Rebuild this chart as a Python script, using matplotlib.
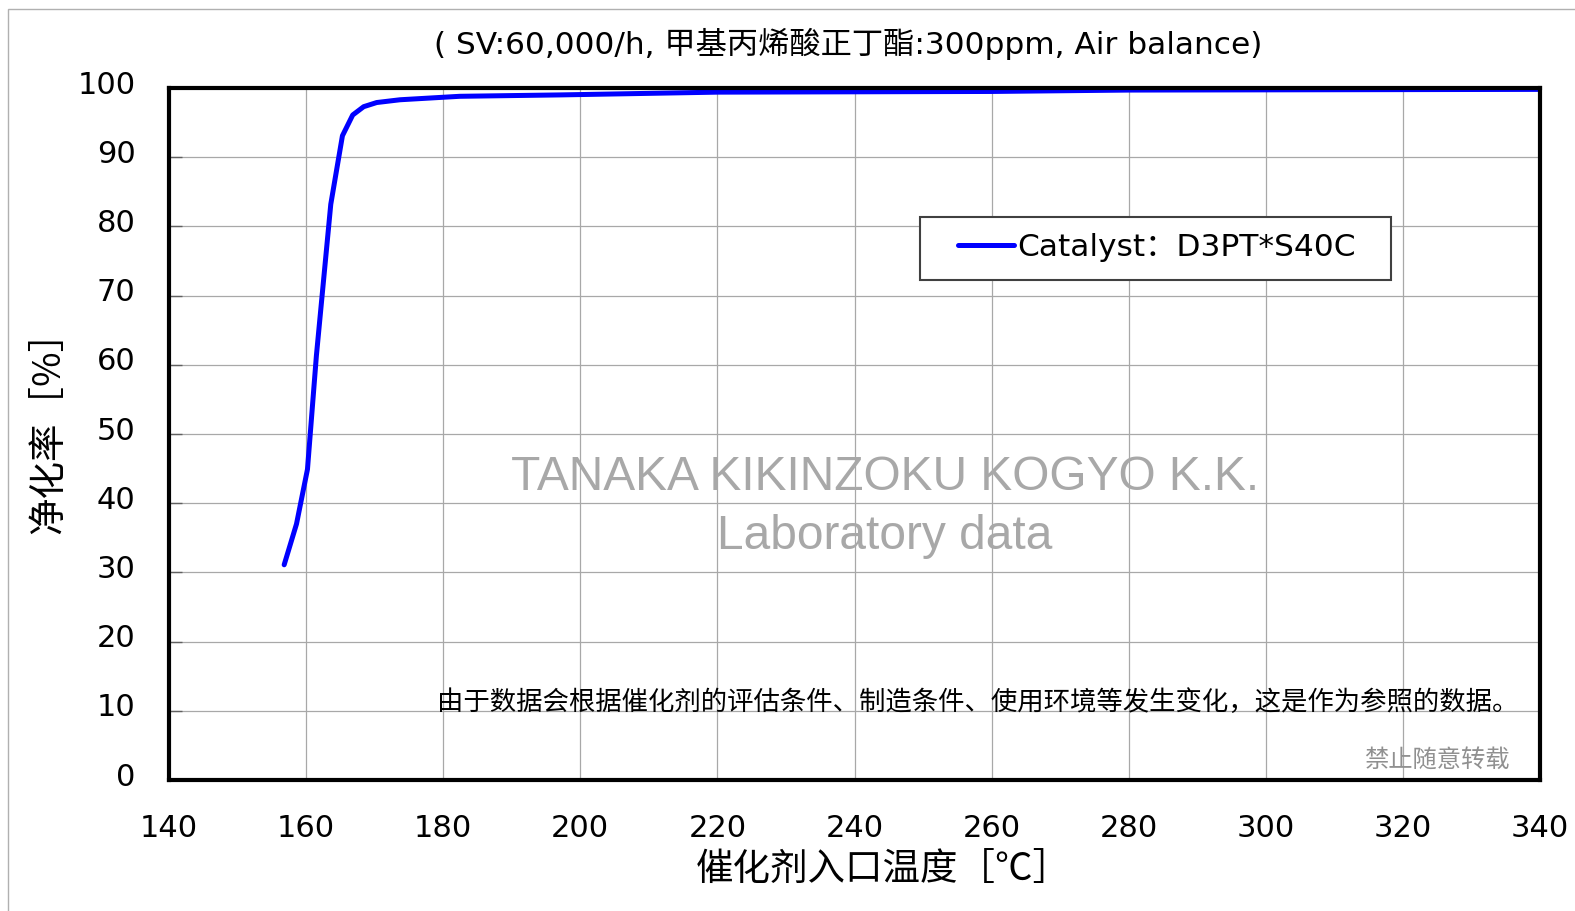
import matplotlib
matplotlib.use('Agg')
import matplotlib.pyplot as plt
import matplotlib.transforms as mtransforms
from matplotlib.patches import Rectangle

# wide latin glyphs first (close to the original UI font), CJK as fallback
plt.rcParams['font.family'] = ['DejaVu Sans', 'Noto Sans CJK SC']
CJK = ['Noto Sans CJK SC', 'DejaVu Sans']

# data
temp = [156.8, 158.6, 160.2, 161.5, 163.6, 165.3, 166.8, 168.4, 170.3, 173.7, 182.4, 197.0, 220.0, 260.0, 280.0, 340.0]
conv = [31.1, 37.0, 44.9, 61.3, 83.2, 93.1, 96.1, 97.3, 97.9, 98.3, 98.8, 99.0, 99.4, 99.5, 99.7, 99.8]
x_ticks = [140, 160, 180, 200, 220, 240, 260, 280, 300, 320, 340]
y_ticks = [0, 10, 20, 30, 40, 50, 60, 70, 80, 90, 100]
series_name = 'Catalyst：D3PT*S40C'
title = '( SV:60,000/h, 甲基丙烯酸正丁酯:300ppm, Air balance)'
xlabel = '催化剂入口温度［℃］'
ylabel = '净化率［%］'
note = '由于数据会根据催化剂的评估条件、制造条件、使用环境等发生变化，这是作为参照的数据。'
no_copy = '禁止随意转载'

W, H = 1575, 912
fig = plt.figure(figsize=(W / 100, H / 100), dpi=100)

# thin grey frame round the picture
fig.add_artist(Rectangle((8 / W, -0.1), 1.2, (H - 10) / H + 0.1, transform=fig.transFigure,
                         fill=False, edgecolor='#b0b0b0', linewidth=1))

ax_l, ax_r, ax_t, ax_b = 169, 1540, 89, 781
ax = fig.add_axes([ax_l / W, 1 - ax_b / H, (ax_r - ax_l) / W, (ax_b - ax_t) / H])
ax.plot(temp, conv, color='#0000ff', linewidth=3.6, solid_capstyle='round',
        solid_joinstyle='round', label=series_name, zorder=3)

ax.set_xlim(140, 340)
ax.set_ylim(0, 100)
ax.set_xticks(x_ticks)
ax.set_yticks(y_ticks)
ax.grid(True, color='#a8a8a8', linewidth=0.9)
ax.set_axisbelow(True)
for s in ax.spines.values():
    s.set_linewidth(3)
    s.set_color('black')
    s.set_zorder(4)
ax.tick_params(axis='y', direction='in', length=9, width=1, color='#606060', labelsize=22, pad=24)
ax.tick_params(axis='x', length=0, labelsize=22, pad=24)
offset = mtransforms.ScaledTranslation(0, 5 / 72, fig.dpi_scale_trans)
for lab in ax.get_yticklabels():
    lab.set_transform(lab.get_transform() + offset)

fig.text(848 / W, 1 - 44 / H, title, ha='center', va='center', fontsize=22.5)
fig.text(883 / W, 1 - 870 / H, xlabel, ha='center', va='center', fontsize=27, family=CJK)
fig.text(50 / W, 1 - 423 / H, ylabel, ha='center', va='center', fontsize=27, rotation=90, family=CJK)

wm = ['Liberation Sans Narrow', 'Liberation Sans']
ax.text(885 / W, 1 - 478 / H, 'TANAKA KIKINZOKU KOGYO K.K.', transform=fig.transFigure,
        ha='center', va='center', fontsize=34.5, color='#a8a8a8', family=wm)
ax.text(885 / W, 1 - 537 / H, 'Laboratory data', transform=fig.transFigure,
        ha='center', va='center', fontsize=34.5, color='#a8a8a8', family=wm)
ax.text(1518 / W, 1 - 702 / H, note, transform=fig.transFigure,
        ha='right', va='center', fontsize=19, color='black', family=CJK)
ax.text(1510 / W, 1 - 760 / H, no_copy, transform=fig.transFigure,
        ha='right', va='center', fontsize=17.5, color='#909090', family=CJK)

# legend box drawn as its own patch, entry placed inside it
def ax_x(px):
    return (px - ax_l) / (ax_r - ax_l)

def ax_y(py):
    return (ax_b - py) / (ax_b - ax_t)

ax.add_patch(Rectangle((ax_x(920), ax_y(281)), ax_x(1391) - ax_x(920), ax_y(218) - ax_y(281),
                       transform=ax.transAxes, facecolor='white', edgecolor='#404040',
                       linewidth=1.5, zorder=5))
leg = ax.legend(loc='center left', bbox_to_anchor=(ax_x(958), ax_y(248)),
                borderaxespad=0, borderpad=0, fontsize=22.5, frameon=False,
                handlelength=1.8, handletextpad=0.1)
leg.set_zorder(6)

fig.savefig('out.png', dpi=100)
